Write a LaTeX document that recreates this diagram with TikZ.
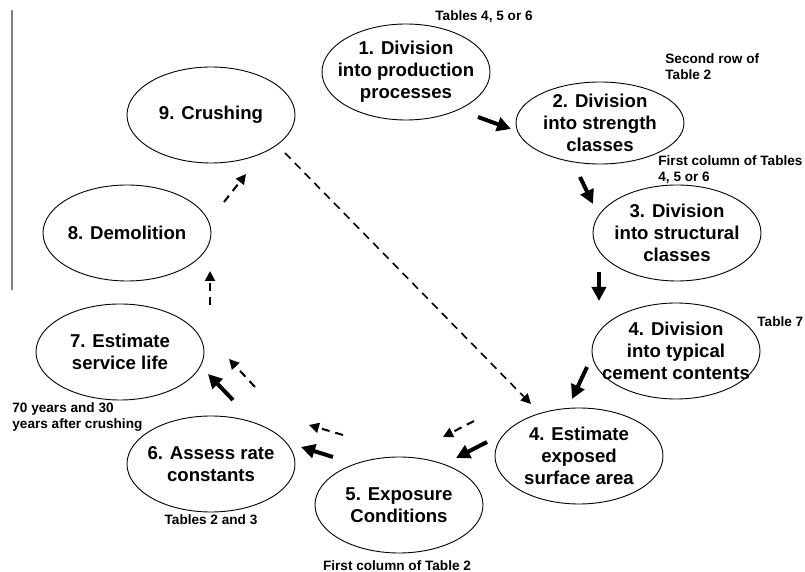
\documentclass[tikz,border=0pt]{standalone}
\usepackage{fontspec}
\setmainfont{Liberation Sans}
\usetikzlibrary{arrows.meta,shapes.geometric}

\tikzset{
  stage/.style={draw, ellipse, line width=0.45pt, inner xsep=-10pt, inner ysep=-2pt,
    minimum width=84pt, minimum height=48pt, align=center,
    font=\fontsize{9.3}{11}\selectfont\bfseries},
  note/.style={inner sep=0pt, align=left, font=\fontsize{6.8}{8.3}\selectfont\bfseries},
  flow/.style={-{Triangle[length=7pt,width=7pt]}, line width=2pt},
  back/.style={-{Triangle[length=5pt,width=5pt]}, line width=1pt, dash pattern=on 4pt off 3pt},
  recycle/.style={-{Triangle[length=5pt,width=5pt]}, line width=0.8pt, dash pattern=on 4pt off 3pt}
}

\begin{document}
\begin{tikzpicture}[x=0.5pt, y=-0.5pt]
    \useasboundingbox (0,0) rectangle (805,572);
    % rand links
    \draw[gray, line width=0.7pt] (12,10) -- (12,290);

    % stappen
    \node[stage] (prod) at (406,72) {1. Division\\into production\\processes};
    \node[stage, minimum height=41pt] (strength) at (600,123) {2. Division\\into strength\\classes};
    \node[stage] (struct) at (677,233) {3. Division\\into structural\\classes};
    \node[stage] (cement) at (676,351) {4. Division\\into typical\\cement contents};
    \node[stage] (surface) at (579,456) {4. Estimate\\exposed\\surface area};
    \node[stage] (expo) at (399,505) {5. Exposure\\Conditions};
    \node[stage] (rate) at (211,464) {6. Assess rate\\constants};
    \node[stage] (life) at (120,352) {7. Estimate\\service life};
    \node[stage] (demol) at (127,233) {8. Demolition};
    \node[stage] (crush) at (211,115) {9. Crushing};

    % bronnen
    \node[note, anchor=north west] (src1) at (435,10) {Tables 4, 5 or 6};
    \node[note, anchor=north west] (src2) at (665,53) {Second row of\\Table 2};
    \node[note, anchor=north west] (src3) at (658,155) {First column of Tables\\4, 5 or 6};
    \node[note, anchor=north west] (src4) at (757,316) {Table 7};
    \node[note, anchor=north west] (src7) at (12,402) {70 years and 30\\years after crushing};
    \node[note, anchor=north] (src6) at (211,514) {Tables 2 and 3};
    \node[note, anchor=north] (src5) at (397,560) {First column of Table 2};

    % eindpunten pijlen
    \coordinate (a12) at (478,117);  \coordinate (b12) at (511,129);
    \coordinate (a23) at (580,177);  \coordinate (b23) at (593,204);
    \coordinate (a34) at (599,272);  \coordinate (b34) at (599,301);
    \coordinate (a45) at (587,367);  \coordinate (b45) at (572,399);
    \coordinate (a56) at (487,442);  \coordinate (b56) at (456,458);
    \coordinate (c56) at (474,421);  \coordinate (d56) at (443,437);
    \coordinate (a67) at (333,457);  \coordinate (b67) at (301,447);
    \coordinate (c67) at (343,435);  \coordinate (d67) at (309,425);
    \coordinate (a78) at (233,400);  \coordinate (b78) at (208,374);
    \coordinate (c78) at (255,387);  \coordinate (d78) at (229,359);
    \coordinate (a89) at (210,305);  \coordinate (b89) at (210,271);
    \coordinate (a90) at (224,202);  \coordinate (b90) at (246,174);
    \coordinate (a94) at (285,153);  \coordinate (b94) at (531,404);

    % hoofdstroom
    \draw[flow] (a12) -- (b12);
    \draw[flow] (a23) -- (b23);
    \draw[flow] (a34) -- (b34);
    \draw[flow] (a45) -- (b45);
    \draw[flow] (a56) -- (b56);
    \draw[flow] (a67) -- (b67);
    \draw[flow] (a78) -- (b78);

    % na sloop
    \draw[back] (c56) -- (d56);
    \draw[back] (c67) -- (d67);
    \draw[back] (c78) -- (d78);
    \draw[back] (a89) -- (b89);
    \draw[back] (a90) -- (b90);
    \draw[recycle] (a94) -- (b94);
\end{tikzpicture}
\end{document}
